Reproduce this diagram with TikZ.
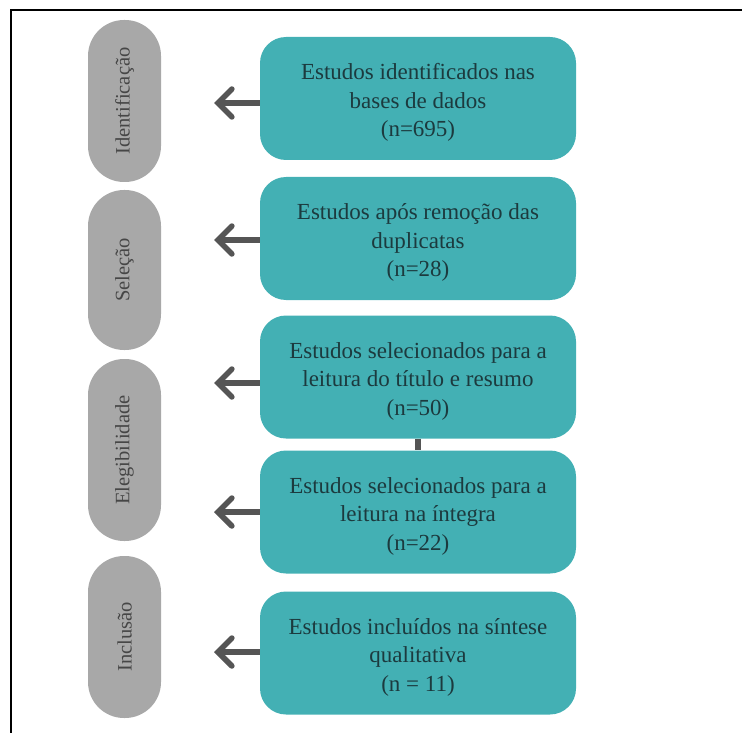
\documentclass[tikz,border=0pt]{standalone}
\usepackage{fontspec}
\setmainfont{Liberation Serif}
\usetikzlibrary{arrows.meta}
\definecolor{teal1}{RGB}{67,176,180}
\definecolor{pillgray}{RGB}{168,168,168}
\definecolor{arrowgray}{RGB}{85,85,85}
\definecolor{boxtext}{RGB}{28,58,62}
\definecolor{pilltext}{RGB}{70,70,70}
\begin{document}
\begin{tikzpicture}[x=1pt,y=-1pt,
  stagebox/.style={fill=teal1, rounded corners=26pt, minimum width=316pt, minimum height=123pt, inner sep=0pt},
  boxlabel/.style={align=center, text=boxtext, font=\fontsize{23}{28.5}\selectfont, inner sep=0pt},
  pill/.style={fill=pillgray, rounded corners=36pt, minimum width=73pt, inner sep=0pt},
  pilllabel/.style={rotate=90, text=pilltext, font=\fontsize{20.5}{24}\selectfont},
  leftarrow/.style={draw=arrowgray, line width=6pt, -{Straight Barb[length=14pt,width=28pt,line width=5.5pt,line cap=round]}},
  link/.style={draw=arrowgray, line width=6pt}
]
\useasboundingbox (0,0) rectangle (742,733);
\draw[line width=2.2pt] (742,10) -- (11,10) -- (11,733);

% stage pills
\node[pill, minimum height=162pt] (p1) at (124.5,101) {};
\node[pilllabel] (l1) at (p1) {Identificação};
\node[pill, minimum height=160pt] (p2) at (124.5,270) {};
\node[pilllabel] (l2) at (p2) {Seleção};
\node[pill, minimum height=182pt] (p3) at (124.5,450) {};
\node[pilllabel] (l3) at (p3) {Elegibilidade};
\node[pill, minimum height=162pt] (p4) at (124.5,637) {};
\node[pilllabel] (l4) at (p4) {Inclusão};

% teal boxes
\node[stagebox] (b1) at (418,98.5) {};
\node[stagebox] (b2) at (418,238.5) {};
\node[stagebox] (b3) at (418,377) {};
\node[stagebox] (b4) at (418,512) {};
\node[stagebox] (b5) at (418,653) {};

\node[boxlabel] (t1) at ([yshift=-4pt]b1.center) {Estudos identificados nas\\bases de dados\\(n=695)};
\node[boxlabel] (t2) at ([yshift=-4pt]b2.center) {Estudos após remoção das\\duplicatas\\(n=28)};
\node[boxlabel] (t3) at ([yshift=-4pt]b3.center) {Estudos selecionados para a\\leitura do título e resumo\\(n=50)};
\node[boxlabel] (t4) at ([yshift=-4pt]b4.center) {Estudos selecionados para a\\leitura na íntegra\\(n=22)};
\node[boxlabel] (t5) at ([yshift=-4pt]b5.center) {Estudos incluídos na síntese\\qualitativa\\(n = 11)};

% arrow ends
\coordinate (a1) at (214,103);
\coordinate (a2) at (214,240);
\coordinate (a3) at (214,383);
\coordinate (a4) at (214,512);
\coordinate (a5) at (214,652);

\draw[leftarrow] (b1.west |- a1) -- (a1);
\draw[leftarrow] (b2.west |- a2) -- (a2);
\draw[leftarrow] (b3.west |- a3) -- (a3);
\draw[leftarrow] (b4.west |- a4) -- (a4);
\draw[leftarrow] (b5.west |- a5) -- (a5);

\draw[link] (b3.south) -- (b4.north);
\end{tikzpicture}
\end{document}
